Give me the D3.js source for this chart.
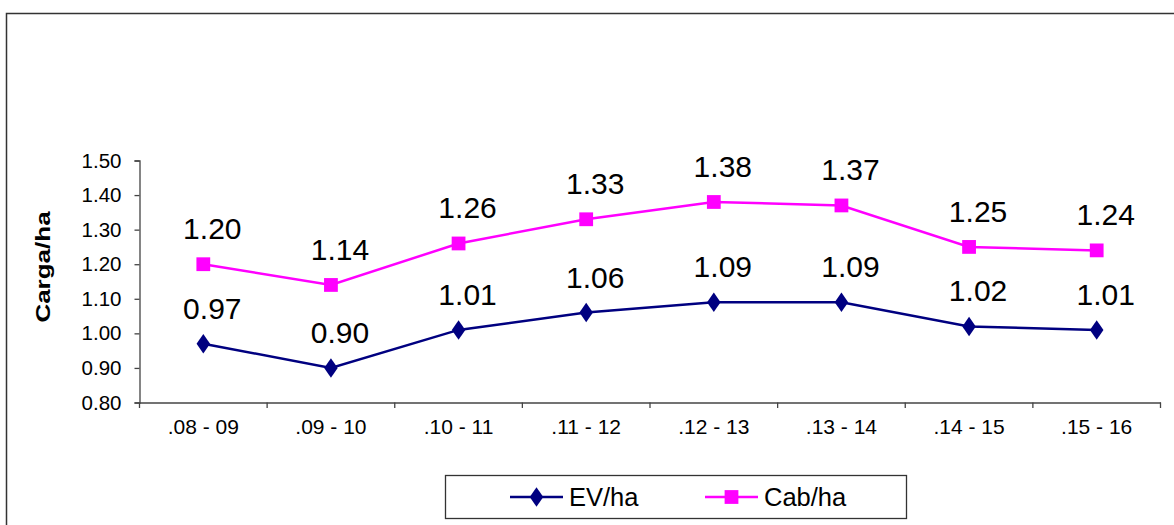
<!DOCTYPE html>
<html><head><meta charset="utf-8">
<script src="https://cdn.jsdelivr.net/npm/d3@7"></script>
<style>body{margin:0;background:#fff}svg{display:block}text{font-family:Arial,"Liberation Sans",sans-serif}</style>
</head><body>
<svg id="c" width="1174" height="525"></svg>
<script>
const categories = [".08 - 09", ".09 - 10", ".10 - 11", ".11 - 12", ".12 - 13", ".13 - 14", ".14 - 15", ".15 - 16"];
const evHa = [0.97, 0.90, 1.01, 1.06, 1.09, 1.09, 1.02, 1.01];
const cabHa = [1.20, 1.14, 1.26, 1.33, 1.38, 1.37, 1.25, 1.24];
const yTicks = [0.80, 0.90, 1.00, 1.10, 1.20, 1.30, 1.40, 1.50];
const seriesNames = ["EV/ha", "Cab/ha"];

const svg = d3.select("#c");
svg.append("rect").attr("x", 6.5).attr("y", 13.5).attr("width", 1300).attr("height", 700)
  .attr("fill", "none").attr("stroke", "#333").attr("stroke-width", 1.5);

const x = d3.scaleBand().domain(categories).range([139.5, 1160.5]);
const y = d3.scaleLinear().domain([0.8, 1.5]).range([402.5, 160.5]);

// y axis
const ya = svg.append("g").attr("transform", "translate(139.5,0)")
  .call(d3.axisLeft(y).tickValues(yTicks).tickFormat(d3.format(".2f")).tickSize(5).tickPadding(13));
ya.select(".domain").attr("stroke", "#444").attr("stroke-width", 1.3);
ya.selectAll(".tick line").attr("stroke", "#444").attr("stroke-width", 1.3);
ya.selectAll("text").attr("font-size", 20.5).attr("fill", "#000").attr("font-family", "Arial,'Liberation Sans',sans-serif");

// x axis
const xa = svg.append("g").attr("transform", "translate(0,402.5)")
  .call(d3.axisBottom(x).tickSize(0).tickPadding(17));
xa.select(".domain").attr("stroke", "#444").attr("stroke-width", 1.3);
xa.selectAll("text").attr("font-size", 21).attr("fill", "#000").attr("font-family", "Arial,'Liberation Sans',sans-serif");
// tick marks at band boundaries
const bounds = categories.map(c => x(c)).concat([x.range()[1]]);
svg.append("g").selectAll("line").data(bounds).join("line")
  .attr("x1", d => d).attr("x2", d => d).attr("y1", 402.5).attr("y2", 408)
  .attr("stroke", "#444").attr("stroke-width", 1.3);

// y title
svg.append("text").attr("transform", "translate(49.5,267) rotate(-90) scale(1.3,1)")
  .attr("text-anchor", "middle").attr("font-weight", "bold").attr("font-size", 20).text("Carga/ha");

const cx = c => x(c) + x.bandwidth() / 2;
const line = d3.line().x(d => cx(d.c)).y(d => y(d.v));
const series = [
  {name: seriesNames[0], vals: evHa, color: "#000080", shape: "diamond"},
  {name: seriesNames[1], vals: cabHa, color: "#FF00FF", shape: "square"}
];
series.forEach(s => {
  const pts = categories.map((c, i) => ({c, v: s.vals[i]}));
  svg.append("path").datum(pts).attr("d", line).attr("fill", "none")
    .attr("stroke", s.color).attr("stroke-width", 2.5);
  const sym = s.shape === "diamond" ? d3.symbolDiamond : d3.symbolSquare;
  const size = s.shape === "diamond" ? 110 : 190;
  svg.append("g").selectAll("path").data(pts).join("path")
    .attr("d", d3.symbol().type(sym).size(size))
    .attr("transform", d => `translate(${cx(d.c)},${y(d.v)})` + (s.shape === "diamond" ? " scale(1.2,1)" : ""))
    .attr("fill", s.color);
  svg.append("g").selectAll("text").data(pts).join("text")
    .attr("x", d => cx(d.c) + 9).attr("y", d => y(d.v) - 25)
    .attr("text-anchor", "middle").attr("font-size", 30).attr("fill", "#000")
    .text(d => d.v.toFixed(2));
});

// legend
svg.append("rect").attr("x", 445.5).attr("y", 475.5).attr("width", 461).attr("height", 43)
  .attr("fill", "#fff").attr("stroke", "#333").attr("stroke-width", 1.3);
const legX = [510, 705];
series.forEach((s, i) => {
  const g = svg.append("g");
  g.append("line").attr("x1", legX[i]).attr("x2", legX[i] + 53).attr("y1", 497).attr("y2", 497)
    .attr("stroke", s.color).attr("stroke-width", 2.5);
  const sym = s.shape === "diamond" ? d3.symbolDiamond : d3.symbolSquare;
  g.append("path").attr("d", d3.symbol().type(sym).size(s.shape === "diamond" ? 110 : 190))
    .attr("transform", `translate(${legX[i] + 26.5},497)` + (s.shape === "diamond" ? " scale(1.2,1)" : ""))
    .attr("fill", s.color);
  g.append("text").attr("x", legX[i] + 59).attr("y", 506).attr("font-size", 25.5).text(s.name);
});
</script>
</body></html>
